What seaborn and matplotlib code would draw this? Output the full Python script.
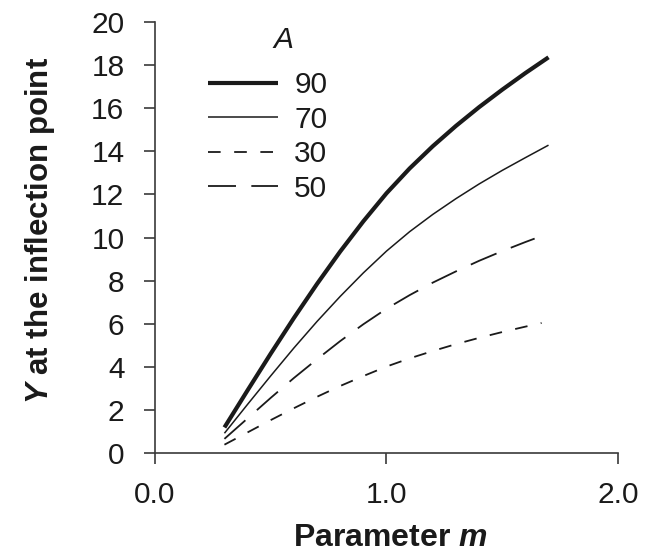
import matplotlib
matplotlib.use("Agg")
import matplotlib.pyplot as plt
import seaborn as sns
import pandas as pd

# Parameter m values and Y at the inflection point for each asymptote A
m_main = [0.3, 0.4, 0.5, 0.6, 0.7, 0.8, 0.9, 1.0, 1.1, 1.2, 1.3, 1.4, 1.5, 1.6, 1.7]
y_a90 = [1.2, 2.92, 4.62, 6.27, 7.85, 9.35, 10.75, 12.05, 13.2, 14.23, 15.17, 16.04, 16.85, 17.62, 18.35]
y_a70 = [0.93, 2.27, 3.59, 4.88, 6.11, 7.27, 8.36, 9.37, 10.27, 11.07, 11.8, 12.48, 13.11, 13.7, 14.28]

m_a30 = [0.3, 0.4, 0.5, 0.6, 0.7, 0.8, 0.9, 1.0, 1.1, 1.2, 1.3, 1.4, 1.5, 1.6, 1.67]
y_a30 = [0.4, 0.97, 1.54, 2.09, 2.62, 3.12, 3.58, 4.02, 4.4, 4.74, 5.06, 5.35, 5.62, 5.87, 6.04]

m_a50 = [0.3, 0.4, 0.5, 0.6, 0.7, 0.8, 0.9, 1.0, 1.1, 1.2, 1.3, 1.4, 1.5, 1.6, 1.64]
y_a50 = [0.67, 1.62, 2.57, 3.49, 4.36, 5.2, 5.98, 6.7, 7.33, 7.91, 8.43, 8.92, 9.37, 9.79, 9.95]

series_labels = ["90", "70", "30", "50"]
x_ticks = [0.0, 1.0, 2.0]
x_tick_labels = ["0.0", "1.0", "2.0"]
y_ticks = list(range(0, 21, 2))

sns.set_style("ticks")
plt.rcParams["font.family"] = ["Liberation Sans", "DejaVu Sans"]
plt.rcParams["mathtext.fontset"] = "custom"
plt.rcParams["mathtext.it"] = "Liberation Sans:italic:bold"
plt.rcParams["mathtext.rm"] = "Liberation Sans:bold"

fig = plt.figure(figsize=(6.49, 5.55), dpi=100)
ax = fig.add_axes([0.2388, 0.1832, 0.7134, 0.7777])

ink = "#1a1a1a"
styles = {
    "90": dict(linewidth=3.0, linestyle="-"),
    "70": dict(linewidth=1.1, linestyle="-"),
    "30": dict(linewidth=1.3, linestyle=(0, (7.0, 7.5))),
    "50": dict(linewidth=1.3, linestyle=(0, (15.5, 8.5))),
}
data = {
    "90": (m_main, y_a90),
    "70": (m_main, y_a70),
    "30": (m_a30, y_a30),
    "50": (m_a50, y_a50),
}

for lab in series_labels:
    xs, ys = data[lab]
    df = pd.DataFrame({"m": xs, "Y": ys})
    sns.lineplot(data=df, x="m", y="Y", ax=ax, color=ink, label=lab,
                 solid_capstyle="butt", dash_capstyle="butt", **styles[lab])

ax.set_xlim(0, 2)
ax.set_ylim(0, 20)
ax.set_xticks(x_ticks)
ax.set_xticklabels(x_tick_labels)
ax.set_yticks(y_ticks)

for side in ("top", "right"):
    ax.spines[side].set_visible(False)
for side in ("left", "bottom"):
    ax.spines[side].set_color("#3a3a3a")
    ax.spines[side].set_linewidth(1.2)

ax.tick_params(axis="both", direction="out", length=8, width=1.2,
               color="#3a3a3a", labelsize=21.5, labelcolor="#1a1a1a")
ax.tick_params(axis="y", pad=14)
ax.tick_params(axis="x", pad=12)

ax.set_xlabel(r"Parameter $\it{m}$", fontsize=23, fontweight="bold",
              color="#1a1a1a")
ax.xaxis.set_label_coords(0.508, -0.162)
ax.set_ylabel(r"$\it{Y}$ at the inflection point", fontsize=22.5,
              fontweight="bold", color="#1a1a1a")
ax.yaxis.set_label_coords(-0.211, 0.517)

leg = ax.legend(loc="upper left", bbox_to_anchor=(0.088, 0.913), frameon=False,
                fontsize=21.5, handlelength=2.35, handletextpad=0.55,
                labelspacing=0.22, borderaxespad=0.0)
for t in leg.get_texts():
    t.set_color("#1a1a1a")

# legend heading
ax.text(0.2765, 0.9576, "A", transform=ax.transAxes, fontsize=21.5,
        fontstyle="italic", color="#1a1a1a", ha="center", va="center")

fig.savefig("out.png", dpi=100)
